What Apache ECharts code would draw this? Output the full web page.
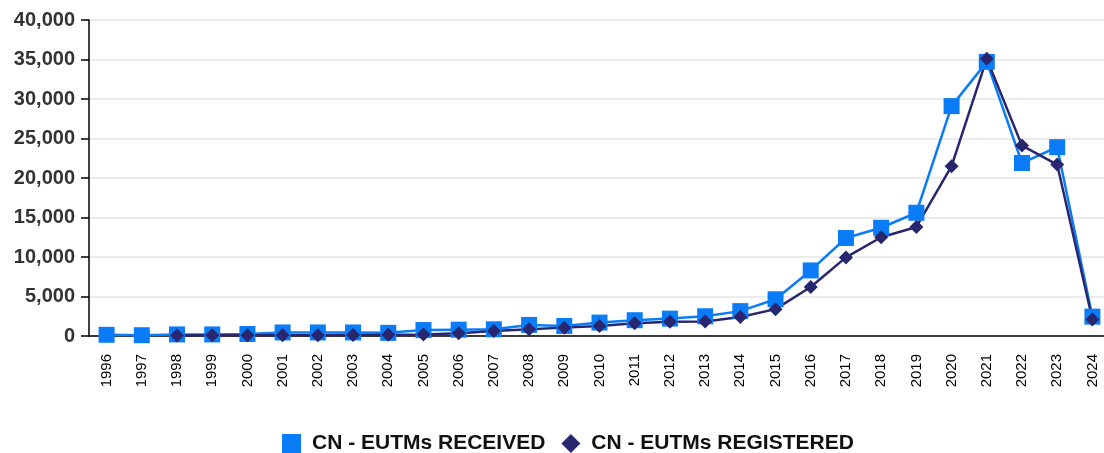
<!DOCTYPE html>
<html>
<head>
<meta charset="utf-8">
<script src="https://cdn.jsdelivr.net/npm/echarts@6/dist/echarts.min.js"></script>
<style>html,body{margin:0;padding:0;background:#fff;overflow:hidden;width:1104px;height:453px}#c{width:1110px;height:453px}</style>
</head>
<body>
<div id="c"></div>
<script>
const years = ['1996','1997','1998','1999','2000','2001','2002','2003','2004','2005','2006','2007','2008','2009','2010','2011','2012','2013','2014','2015','2016','2017','2018','2019','2020','2021','2022','2023','2024'];
const received = [150,100,200,200,250,450,450,450,400,750,800,850,1400,1270,1700,2000,2200,2500,3150,4650,8300,12400,13700,15600,29100,34700,21900,23900,2450];
const registered = [null,null,50,80,80,100,100,120,150,200,350,630,850,1060,1270,1600,1800,1850,2400,3400,6200,9950,12500,13800,21500,35100,24100,21700,2100];
const seriesNames = ['CN - EUTMs RECEIVED','CN - EUTMs REGISTERED'];

const chart = echarts.init(document.getElementById('c'));
chart.setOption({
  animation: false,
  grid: {left: 89, top: 20, height: 316, width: 1021, containLabel: false},
  legend: {
    top: 428, left: 277,
    itemWidth: 19, itemHeight: 19, itemGap: 16,
    textStyle: {fontFamily: 'Arial, "Liberation Sans", sans-serif', fontWeight: 'bold', fontSize: 21, color: '#111', padding: [0, 0, 0, 6]},
    data: [{name: seriesNames[0], icon: 'rect'}, {name: seriesNames[1], icon: 'diamond'}]
  },
  xAxis: {
    type: 'category', data: years, boundaryGap: true,
    axisLine: {lineStyle: {color: '#000', width: 1.5}},
    axisTick: {alignWithLabel: true, length: 8, lineStyle: {color: '#000', width: 1.5}},
    axisLabel: {rotate: 90, interval: 0, color: '#000', fontSize: 15, fontFamily: 'Arial, "Liberation Sans", sans-serif', margin: 18}
  },
  yAxis: {
    type: 'value', min: 0, max: 40000, interval: 5000,
    axisLine: {show: true, lineStyle: {color: '#000', width: 1.5}},
    axisTick: {show: true, length: 8, lineStyle: {color: '#000', width: 1.5}},
    splitLine: {lineStyle: {color: '#e4e4e4', width: 1.5}},
    axisLabel: {color: '#333', fontWeight: 'bold', fontSize: 20, fontFamily: 'Arial, "Liberation Sans", sans-serif', margin: 14,
      formatter: v => v.toLocaleString('en-US')}
  },
  series: [
    {name: seriesNames[0], type: 'line', data: received, symbol: 'rect', symbolSize: 16,
      itemStyle: {color: '#0A7CF7'}, lineStyle: {color: '#0A7CF7', width: 2.5}},
    {name: seriesNames[1], type: 'line', data: registered, symbol: 'diamond', symbolSize: 14,
      itemStyle: {color: '#28266F'}, lineStyle: {color: '#28266F', width: 2.5}}
  ]
});
</script>
</body>
</html>
